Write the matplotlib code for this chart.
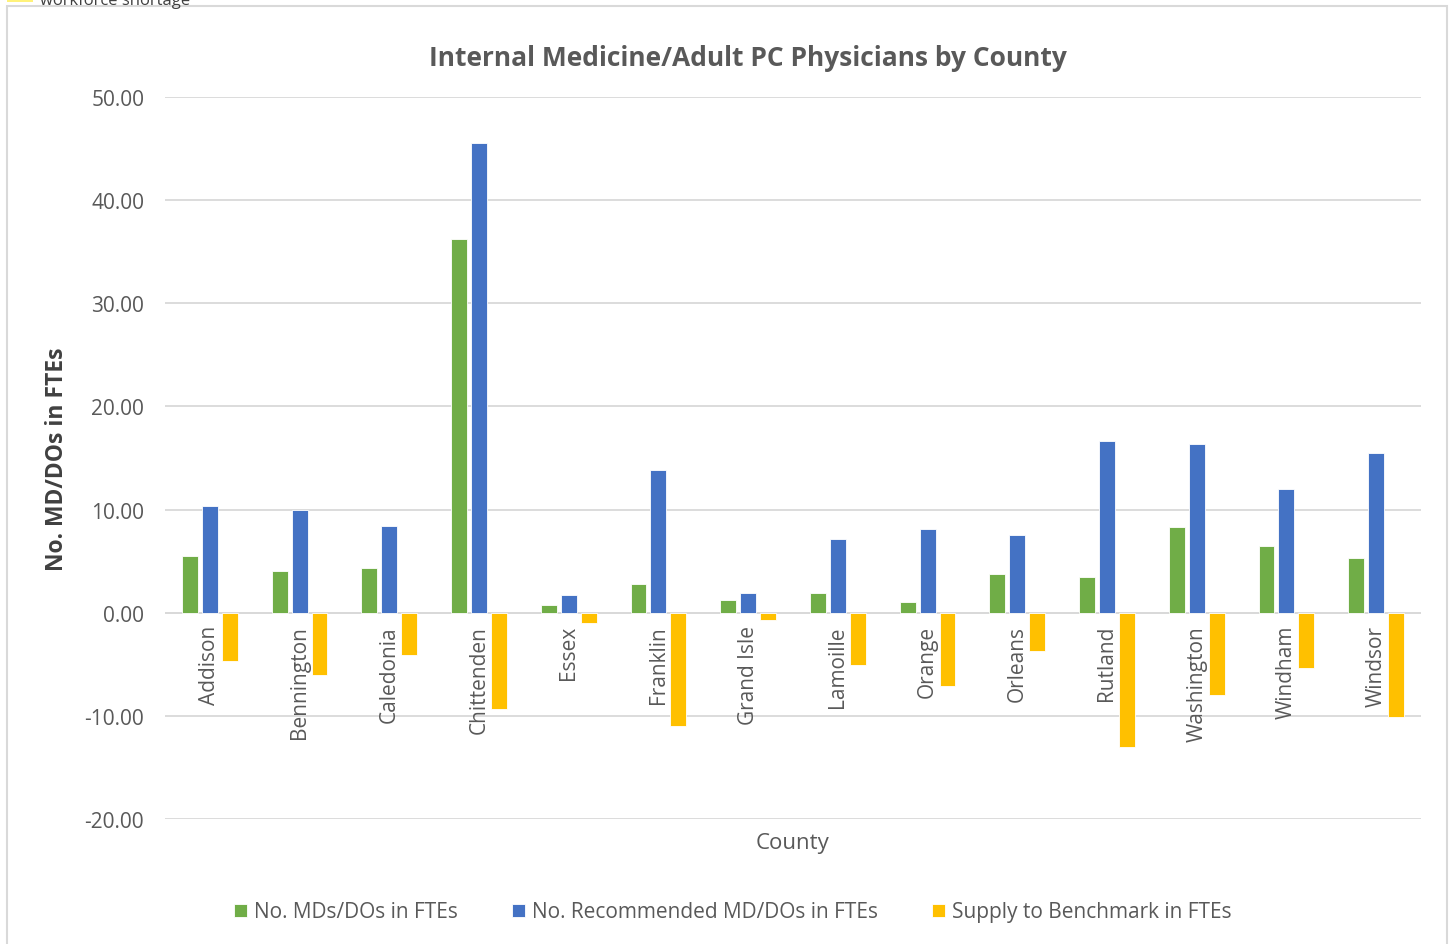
import matplotlib
matplotlib.use("Agg")
import matplotlib.pyplot as plt
import numpy as np
from matplotlib.patches import Rectangle

counties = ["Addison", "Bennington", "Caledonia", "Chittenden", "Essex", "Franklin",
            "Grand Isle", "Lamoille", "Orange", "Orleans", "Rutland", "Washington",
            "Windham", "Windsor"]
md_do = [5.5, 4.0, 4.35, 36.2, 0.75, 2.8, 1.2, 1.9, 1.0, 3.8, 3.5, 8.3, 6.5, 5.3]
recommended = [10.3, 10.0, 8.4, 45.5, 1.7, 13.8, 1.9, 7.1, 8.1, 7.5, 16.6, 16.4, 12.0, 15.5]
supply_bench = [-4.7, -6.0, -4.1, -9.3, -1.0, -11.0, -0.7, -5.1, -7.1, -3.7, -13.0, -8.0, -5.4, -10.1]
series_names = ["No. MDs/DOs in FTEs", "No. Recommended MD/DOs in FTEs", "Supply to Benchmark in FTEs"]
colors = ["#70AD47", "#4472C4", "#FFC000"]
yticks = [-20, -10, 0, 10, 20, 30, 40, 50]

plt.rcParams['font.family'] = ['Open Sans', 'DejaVu Sans']
W, H = 1455, 945
fig = plt.figure(figsize=(W / 100, H / 100), dpi=100)
ax = fig.add_axes([165 / W, 1 - 820 / H, (1421 - 165) / W, (820 - 98) / H])

x = np.arange(len(counties))
bw = 0.178
pitch = 0.222
for i, (vals, name, c) in enumerate(zip([md_do, recommended, supply_bench], series_names, colors)):
    ax.bar(x + (i - 1) * pitch, vals, width=bw, color=c, label=name, zorder=3,
           edgecolor='white', linewidth=0.6)

ax.set_xlim(-0.5, len(counties) - 0.5)
ax.set_ylim(-20, 50)
ax.set_yticks(yticks)
ax.set_yticklabels([f"{v:.2f}" for v in yticks], fontsize=15, color="#595959")
ax.tick_params(axis='y', length=0, pad=15)
ax.grid(axis='y', color="#D9D9D9", linewidth=1.3, zorder=0)
ax.axhline(0, color="#D9D9D9", linewidth=1.3, zorder=2)
for s in ax.spines.values():
    s.set_visible(False)
ax.set_xticks([])
for xi, name in zip(x, counties):
    ax.text(xi, -1.2, name, rotation=90, ha='center', va='top', fontsize=15,
            color="#595959", zorder=4)

fig.text(748 / W, 1 - 59 / H, "Internal Medicine/Adult PC Physicians by County",
         ha='center', va='center', fontsize=19, fontweight='bold', color="#595959")
fig.text(57 / W, 1 - 459 / H, "No. MD/DOs in FTEs", rotation=90, ha='center', va='center',
         fontsize=16.5, fontweight='bold', color="#404040")
fig.text(793 / W, 1 - 843 / H, "County", ha='center', va='center', fontsize=16, color="#595959")

leg = fig.legend(loc='center', bbox_to_anchor=(733 / W, 1 - 913 / H), ncol=3, frameon=False,
                 fontsize=15, handlelength=0.6, handleheight=0.6, columnspacing=2.6,
                 handletextpad=0.35)
for t in leg.get_texts():
    t.set_color("#595959")

# chart frame
fig.patches.append(Rectangle((7 / W, -0.01), (1447 - 7) / W, 1 - 7 / H + 0.01,
                             transform=fig.transFigure, fill=False,
                             edgecolor="#D9D9D9", linewidth=1.5))
# cropped fragment at top (partially visible in the reference)
fig.patches.append(Rectangle((7 / W, 1 - 3 / H), 26 / W, 6 / H, transform=fig.transFigure,
                             facecolor="#FFF27A", edgecolor='none'))
fig.text(40 / W, 1 - 1 / H, "workforce shortage", ha='left', va='center', fontsize=12,
         color="#404040")

fig.savefig("out.png", dpi=100, facecolor='white')
